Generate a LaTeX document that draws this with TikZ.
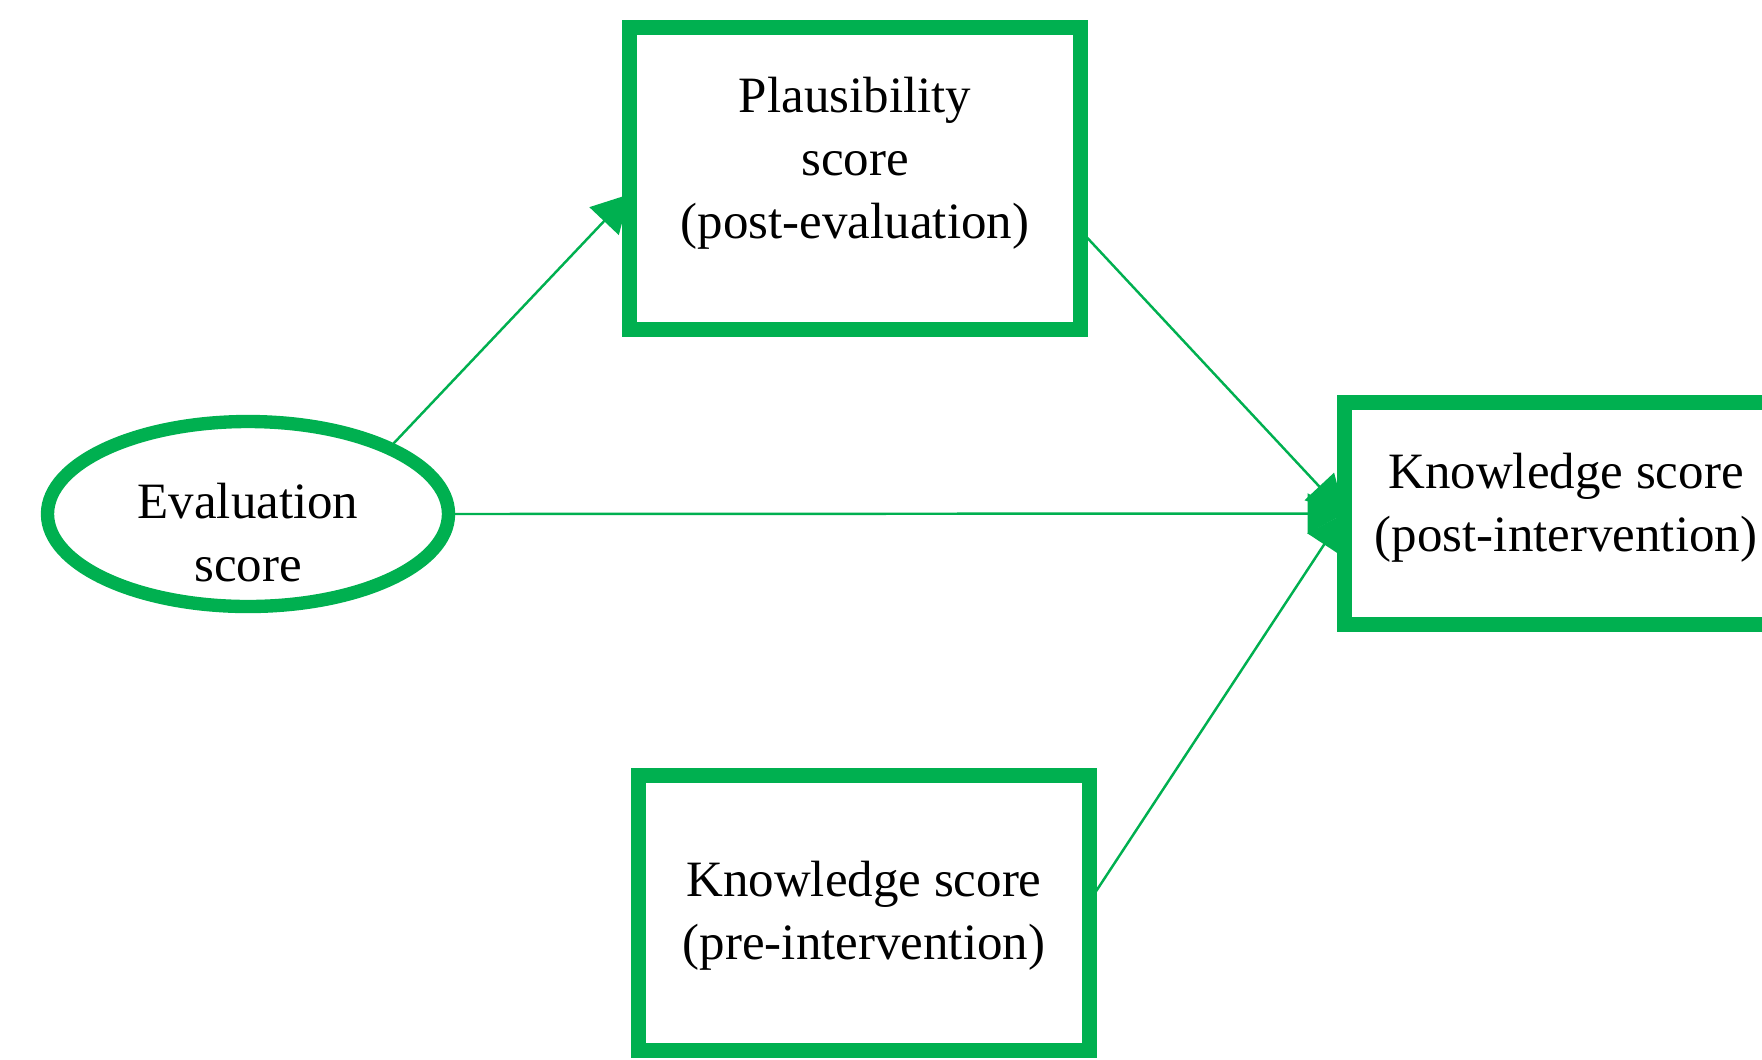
\documentclass[tikz,border=0pt]{standalone}
\usepackage{fontspec}
\setmainfont{Liberation Serif}
\usepackage{tikz}
\usetikzlibrary{arrows.meta,shapes.geometric,backgrounds}
\definecolor{verde}{RGB}{0,176,80}
\newcommand{\lineas}[2]{\raisebox{#1}[0pt][0pt]{\begin{tabular}{@{}c@{}}#2\end{tabular}}}
\tikzset{
  scorebox/.style={rectangle,draw=verde,line width=4.2pt,fill=white,
    align=center,inner sep=0pt,outer sep=0pt},
  scoreoval/.style={ellipse,draw=verde,line width=3.8pt,fill=white,
    align=center,inner sep=0pt,outer sep=0pt,
    minimum width=4.01cm,minimum height=1.85cm},
  effect/.style={-{Triangle[length=3.7mm,width=4mm]},draw=verde,line width=0.7pt}
}

\begin{document}
\begin{tikzpicture}[
  font=\fontsize{14.5}{17.9}\selectfont
]
\useasboundingbox (0,0) rectangle (17.62,-10.59);
\clip (0,0) rectangle (17.62,-10.59);

% 1. Predictor y mediador
\node[scoreoval] (evaluation) at (2.48,-5.14) {\lineas{-0.36cm}{Evaluation\\score}};
\node[scorebox,minimum width=4.51cm,minimum height=3.02cm] (plausibility) at (8.55,-1.785)
  {\lineas{0.03cm}{Plausibility\\score\\(post-evaluation)}};

% 2. Covariable y resultado
\node[scorebox,minimum width=4.51cm,minimum height=2.755cm] (preknow) at (8.64,-9.13)
  {\lineas{-0.15cm}{Knowledge score\\(pre-intervention)}};
\node[scorebox,minimum width=4.43cm,minimum height=2.22cm] (postknow) at (15.66,-5.135)
  {\lineas{-0.07cm}{Knowledge score\\(post-intervention)}};

% 3. Caminos
\begin{scope}[on background layer]
\draw[effect] (evaluation.25)--(plausibility.184);
\draw[effect] (plausibility.-13)--(postknow.west);
\draw[effect] (evaluation.east)--(postknow.west);
\draw[effect] (preknow.3)--(postknow.west);
\end{scope}

\end{tikzpicture}
\end{document}
